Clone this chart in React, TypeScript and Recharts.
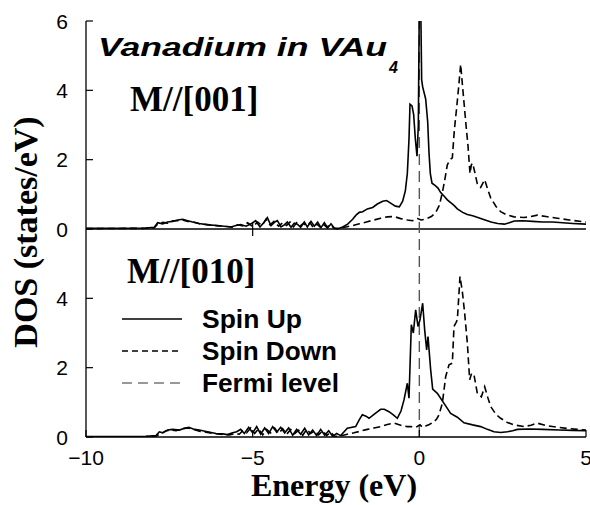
import React from "react";
import { LineChart, Line, XAxis, YAxis, ReferenceLine, Legend } from "recharts";

// ---------- data ----------
const xTicks = [-10, -5, 0, 5];
const yTicks = [0, 2, 4, 6, 8, 10, 12];
const PANEL_OFFSET = 6; // upper panel (M//[001]) sits on top of the lower one

const topUpE = [-10, -9, -8.2, -7.95, -7.85, -7.7, -7.55, -7.4, -7.25, -7.1, -6.95, -6.8, -6.6, -6.35, -6.05, -5.8, -5.65, -5.5, -5.36, -5.2, -5.05, -4.91, -4.78, -4.65, -4.56, -4.45, -4.34, -4.26, -4.15, -4.05, -3.96, -3.85, -3.75, -3.66, -3.56, -3.45, -3.36, -3.25, -3.15, -3.05, -2.95, -2.85, -2.75, -2.65, -2.55, -2.46, -2.3, -2.15, -2.0, -1.9, -1.8, -1.7, -1.56, -1.4, -1.26, -1.1, -0.98, -0.85, -0.72, -0.6, -0.5, -0.42, -0.36, -0.31, -0.28, -0.22, -0.17, -0.12, -0.07, -0.03, 0.0, 0.04, 0.07, 0.1, 0.19, 0.25, 0.29, 0.33, 0.38, 0.48, 0.56, 0.64, 0.74, 0.84, 0.94, 1.04, 1.14, 1.3, 1.44, 1.6, 1.8, 1.95, 2.15, 2.35, 2.55, 2.7, 2.85, 3.1, 3.4, 3.7, 4.0, 4.3, 4.6, 5.0];
const topUpDos = [0.02, 0.02, 0.03, 0.05, 0.18, 0.15, 0.2, 0.22, 0.26, 0.28, 0.24, 0.2, 0.16, 0.12, 0.1, 0.07, 0.06, 0.1, 0.13, 0.08, 0.15, 0.24, 0.06, 0.2, 0.33, 0.1, 0.2, 0.24, 0.06, 0.12, 0.2, 0.05, 0.17, 0.14, 0.05, 0.2, 0.06, 0.22, 0.08, 0.2, 0.04, 0.18, 0.03, 0.15, 0.02, 0.0, 0.06, 0.14, 0.28, 0.4, 0.48, 0.5, 0.58, 0.62, 0.72, 0.8, 0.82, 0.74, 0.66, 0.64, 0.8, 1.1, 1.6, 2.6, 3.6, 3.55, 3.3, 2.6, 2.1, 3.0, 6.6, 6.6, 4.3, 4.1, 3.75, 3.1, 2.2, 1.6, 1.32, 1.25, 1.18, 1.05, 0.95, 0.84, 0.76, 0.68, 0.58, 0.48, 0.42, 0.38, 0.32, 0.27, 0.2, 0.16, 0.14, 0.18, 0.23, 0.24, 0.22, 0.2, 0.2, 0.18, 0.16, 0.14];

const topDownE = [-10, -8.2, -7.95, -7.85, -7.7, -7.55, -7.4, -7.25, -7.1, -6.95, -6.8, -6.6, -6.35, -6.05, -5.8, -5.6, -5.45, -5.3, -5.15, -5.0, -4.85, -4.72, -4.6, -4.48, -4.36, -4.22, -4.1, -3.98, -3.88, -3.78, -3.68, -3.58, -3.48, -3.38, -3.28, -3.18, -3.08, -2.98, -2.88, -2.78, -2.68, -2.55, -2.4, -2.2, -2.0, -1.8, -1.56, -1.36, -1.16, -0.96, -0.76, -0.56, -0.36, -0.2, -0.05, 0.05, 0.15, 0.24, 0.36, 0.49, 0.6, 0.69, 0.76, 0.84, 0.92, 0.99, 1.05, 1.12, 1.18, 1.24, 1.28, 1.34, 1.4, 1.46, 1.52, 1.56, 1.6, 1.66, 1.74, 1.84, 1.96, 2.05, 2.14, 2.3, 2.44, 2.6, 2.84, 3.14, 3.35, 3.54, 3.8, 4.14, 4.5, 5.0];
const topDownDos = [0.01, 0.02, 0.04, 0.14, 0.19, 0.17, 0.24, 0.24, 0.26, 0.22, 0.21, 0.15, 0.13, 0.09, 0.08, 0.05, 0.12, 0.09, 0.18, 0.07, 0.2, 0.1, 0.28, 0.12, 0.22, 0.08, 0.18, 0.1, 0.2, 0.06, 0.18, 0.08, 0.16, 0.1, 0.18, 0.04, 0.15, 0.06, 0.14, 0.05, 0.12, 0.02, 0.02, 0.06, 0.1, 0.15, 0.21, 0.26, 0.31, 0.35, 0.36, 0.3, 0.26, 0.24, 0.3, 0.26, 0.28, 0.31, 0.36, 0.47, 0.68, 1.05, 1.4, 1.85, 2.0, 2.05, 2.85, 3.5, 4.1, 4.75, 4.3, 3.65, 3.0, 2.4, 1.6, 1.85, 1.9, 1.65, 1.3, 1.2, 1.42, 1.15, 0.9, 0.65, 0.5, 0.42, 0.35, 0.33, 0.36, 0.4, 0.36, 0.31, 0.26, 0.2];

const botUpE = [-10, -8.2, -7.9, -7.8, -7.7, -7.55, -7.4, -7.2, -7.05, -6.91, -6.75, -6.6, -6.36, -6.1, -5.9, -5.76, -5.6, -5.48, -5.36, -5.25, -5.12, -5.0, -4.88, -4.76, -4.64, -4.52, -4.4, -4.28, -4.16, -4.04, -3.92, -3.8, -3.68, -3.56, -3.44, -3.32, -3.2, -3.08, -2.96, -2.84, -2.72, -2.6, -2.48, -2.36, -2.16, -1.91, -1.8, -1.71, -1.6, -1.51, -1.35, -1.16, -1.05, -0.91, -0.78, -0.66, -0.55, -0.46, -0.36, -0.31, -0.24, -0.18, -0.11, -0.04, 0.02, 0.1, 0.16, 0.22, 0.26, 0.34, 0.4, 0.54, 0.74, 0.94, 1.14, 1.34, 1.6, 1.84, 2.04, 2.24, 2.44, 2.64, 2.8, 2.94, 3.3, 3.7, 4.2, 4.6, 5.0];
const botUpDos = [0.01, 0.02, 0.04, 0.15, 0.12, 0.2, 0.22, 0.2, 0.25, 0.28, 0.22, 0.2, 0.15, 0.1, 0.09, 0.07, 0.12, 0.15, 0.22, 0.1, 0.28, 0.12, 0.3, 0.08, 0.26, 0.1, 0.3, 0.14, 0.28, 0.12, 0.26, 0.05, 0.22, 0.08, 0.25, 0.06, 0.2, 0.04, 0.22, 0.05, 0.18, 0.02, 0.1, 0.04, 0.25, 0.3, 0.5, 0.64, 0.6, 0.54, 0.66, 0.8, 0.8, 0.73, 0.64, 0.54, 0.75, 1.07, 1.55, 1.12, 3.24, 3.0, 3.67, 3.19, 3.38, 3.86, 3.09, 2.51, 2.9, 1.94, 1.38, 1.26, 0.97, 0.68, 0.57, 0.41, 0.35, 0.3, 0.22, 0.15, 0.13, 0.15, 0.18, 0.22, 0.23, 0.22, 0.2, 0.19, 0.18];

const botDownE = [-10, -8.2, -7.9, -7.75, -7.6, -7.45, -7.3, -7.1, -6.95, -6.8, -6.6, -6.4, -6.15, -5.9, -5.7, -5.52, -5.4, -5.3, -5.18, -5.06, -4.94, -4.82, -4.7, -4.58, -4.46, -4.34, -4.22, -4.1, -3.98, -3.86, -3.74, -3.62, -3.5, -3.38, -3.26, -3.14, -3.02, -2.9, -2.78, -2.66, -2.54, -2.36, -2.16, -1.96, -1.76, -1.56, -1.36, -1.16, -0.96, -0.76, -0.56, -0.36, -0.26, -0.1, 0.02, 0.1, 0.19, 0.3, 0.44, 0.52, 0.59, 0.69, 0.79, 0.89, 0.99, 1.04, 1.1, 1.14, 1.18, 1.22, 1.29, 1.36, 1.44, 1.51, 1.57, 1.64, 1.74, 1.86, 1.96, 2.05, 2.14, 2.3, 2.44, 2.64, 2.84, 3.14, 3.35, 3.54, 3.8, 4.14, 4.5, 5.0];
const botDownDos = [0.0, 0.01, 0.03, 0.1, 0.18, 0.2, 0.18, 0.24, 0.26, 0.23, 0.17, 0.14, 0.1, 0.07, 0.06, 0.1, 0.08, 0.18, 0.12, 0.26, 0.1, 0.24, 0.06, 0.22, 0.12, 0.26, 0.1, 0.24, 0.08, 0.22, 0.1, 0.2, 0.05, 0.22, 0.1, 0.18, 0.06, 0.18, 0.04, 0.14, 0.01, 0.03, 0.08, 0.12, 0.17, 0.22, 0.26, 0.3, 0.36, 0.4, 0.34, 0.3, 0.3, 0.28, 0.35, 0.28, 0.32, 0.36, 0.44, 0.52, 0.64, 0.97, 1.74, 2.08, 2.13, 3.19, 3.3, 3.38, 4.0, 4.63, 4.2, 3.57, 2.71, 1.65, 1.84, 1.79, 1.26, 1.16, 1.45, 1.15, 0.88, 0.65, 0.54, 0.42, 0.35, 0.3, 0.34, 0.4, 0.33, 0.28, 0.24, 0.2];

const legendItems = [
  { label: "Spin Up", dash: undefined as string | undefined, color: "#000", len: 100 },
  { label: "Spin Down", dash: "6 4", color: "#000", len: 135 },
  { label: "Fermi level", dash: "10 6", color: "#777", len: 137 },
];

const toRows = (es: number[], vs: number[], off: number) =>
  es.map((e, i) => ({ e, v: vs[i] + off }));

const topUp = toRows(topUpE, topUpDos, PANEL_OFFSET);
const topDown = toRows(topDownE, topDownDos, PANEL_OFFSET);
const botUp = toRows(botUpE, botUpDos, 0);
const botDown = toRows(botDownE, botDownDos, 0);

// ---------- styles ----------
const SANS = "'Liberation Sans', Arial, sans-serif";
const SERIF = "'Liberation Serif', 'Times New Roman', serif";
const TICK_FS = 21;

const fmtX = (v: number) => (v < 0 ? "\u2212" + Math.abs(v) : String(v));
const fmtY = (v: number) => String(v >= PANEL_OFFSET ? v - PANEL_OFFSET : v);

const LeftTick = (p: any) => (
  <g>
    <line x1={p.x + 18} x2={p.x + 25} y1={p.y} y2={p.y} stroke="#000" strokeWidth={1.2} />
    <text x={p.x} y={p.y} dy="0.36em" textAnchor="end" fontFamily={SANS} fontSize={TICK_FS} fill="#000">
      {fmtY(p.payload.value)}
    </text>
  </g>
);
const RightTick = (p: any) => (
  <line x1={p.x - 7} x2={p.x} y1={p.y} y2={p.y} stroke="#000" strokeWidth={1.2} />
);
const BottomTick = (p: any) => (
  <g>
    <line x1={p.x} x2={p.x} y1={p.y - 13} y2={p.y - 20} stroke="#000" strokeWidth={1.2} />
    <text x={p.x} y={p.y} dy="0.72em" textAnchor="middle" fontFamily={SANS} fontSize={TICK_FS} fill="#000">
      {fmtX(p.payload.value)}
    </text>
  </g>
);
const TopTick = (p: any) => (
  <line x1={p.x} x2={p.x} y1={p.y} y2={p.y + 7} stroke="#000" strokeWidth={1.2} />
);

const YTitle = (p: any) => {
  const vb = p.viewBox;
  const x = vb.x + 37;
  const y = vb.y + vb.height / 2 + 3;
  return (
    <text x={x} y={y} transform={`rotate(-90, ${x}, ${y})`} textAnchor="middle" fontFamily={SERIF} fontWeight="bold" fontSize={34} fill="#000">
      DOS (states/eV)
    </text>
  );
};
const XTitle = (p: any) => {
  const vb = p.viewBox;
  return (
    <text x={vb.x + vb.width / 2 - 2} y={vb.y + 59} textAnchor="middle" fontFamily={SERIF} fontWeight="bold" fontSize={32} fill="#000">
      Energy (eV)
    </text>
  );
};

const LegendBox = () => (
  <svg width={240} height={110} style={{ display: "block", overflow: "visible" }}>
    {legendItems.map((it, i) => {
      const cy = 14 + i * 32;
      return (
        <g key={it.label}>
          <line x1={2} x2={62} y1={cy} y2={cy} stroke={it.color} strokeWidth={1.6} strokeDasharray={it.dash} />
          <text x={82} y={cy + 9} fontFamily={SANS} fontWeight="bold" fontSize={25} fill="#000" textLength={it.len} lengthAdjust="spacingAndGlyphs">
            {it.label}
          </text>
        </g>
      );
    })}
  </svg>
);

export default function App() {
  return (
    <div style={{ position: "absolute", left: 0, top: 0, width: 590, height: 505, background: "#fff" }}>
      <LineChart width={590} height={505} margin={{ top: 21, right: 4, bottom: 0, left: 0 }}>
        <XAxis
          dataKey="e"
          type="number"
          domain={[-10, 5]}
          ticks={xTicks}
          allowDataOverflow
          height={68}
          tickSize={0}
          tickMargin={13}
          tickLine={false}
          axisLine={{ stroke: "#000", strokeWidth: 1.3 }}
          tick={<BottomTick />}
          label={<XTitle />}
        />
        <XAxis
          xAxisId="top"
          orientation="top"
          dataKey="e"
          type="number"
          domain={[-10, 5]}
          ticks={xTicks}
          height={0}
          tickSize={0}
          tickMargin={0}
          tickLine={false}
          axisLine={{ stroke: "#000", strokeWidth: 1.3 }}
          tick={<TopTick />}
        />
        <YAxis
          type="number"
          domain={[0, 12]}
          ticks={yTicks}
          allowDataOverflow
          width={86}
          tickSize={0}
          tickMargin={18}
          tickLine={false}
          axisLine={{ stroke: "#000", strokeWidth: 1.3 }}
          tick={<LeftTick />}
          label={<YTitle />}
        />
        <YAxis
          yAxisId="r"
          orientation="right"
          type="number"
          domain={[0, 12]}
          ticks={yTicks}
          allowDataOverflow
          width={0}
          tickSize={0}
          tickMargin={0}
          tickLine={false}
          axisLine={{ stroke: "#000", strokeWidth: 1.3 }}
          tick={<RightTick />}
        />
        <ReferenceLine y={PANEL_OFFSET} stroke="#000" strokeWidth={1.3} />
        <ReferenceLine segment={[{ x: -5, y: PANEL_OFFSET - 0.2 }, { x: -5, y: PANEL_OFFSET + 0.2 }]} stroke="#000" strokeWidth={1.2} />
        <ReferenceLine x={0} stroke="#555" strokeWidth={1.4} strokeDasharray="11 6" />
        <Line data={topDown} dataKey="v" name="Spin Down" type="linear" stroke="#000" strokeWidth={1.6} strokeDasharray="7 4" dot={false} isAnimationActive={false} legendType="none" />
        <Line data={topUp} dataKey="v" name="Spin Up" type="linear" stroke="#000" strokeWidth={1.6} dot={false} isAnimationActive={false} legendType="none" />
        <Line data={botDown} dataKey="v" name="Spin Down " type="linear" stroke="#000" strokeWidth={1.6} strokeDasharray="7 4" dot={false} isAnimationActive={false} legendType="none" />
        <Line data={botUp} dataKey="v" name="Spin Up " type="linear" stroke="#000" strokeWidth={1.6} dot={false} isAnimationActive={false} legendType="none" />
        <Legend
          layout="vertical"
          align="center"
          verticalAlign="middle"
          content={<LegendBox />}
          wrapperStyle={{ position: "absolute", left: 120, top: 305, width: 240, height: 110 }}
        />
      </LineChart>
      <svg width={590} height={505} style={{ position: "absolute", left: 0, top: 0, pointerEvents: "none" }}>
        <text x={98} y={56} fontFamily={SANS} fontWeight="bold" fontStyle="italic" fontSize={25} fill="#000" textLength={289} lengthAdjust="spacingAndGlyphs">
          Vanadium in VAu
        </text>
        <text x={389} y={73} fontFamily={SANS} fontWeight="bold" fontStyle="italic" fontSize={16} fill="#000">
          4
        </text>
        <text x={130} y={111} fontFamily={SERIF} fontWeight="bold" fontSize={35} fill="#000">
          M//[001]
        </text>
        <text x={127} y={283} fontFamily={SERIF} fontWeight="bold" fontSize={35} fill="#000">
          M//[010]
        </text>
      </svg>
    </div>
  );
}
